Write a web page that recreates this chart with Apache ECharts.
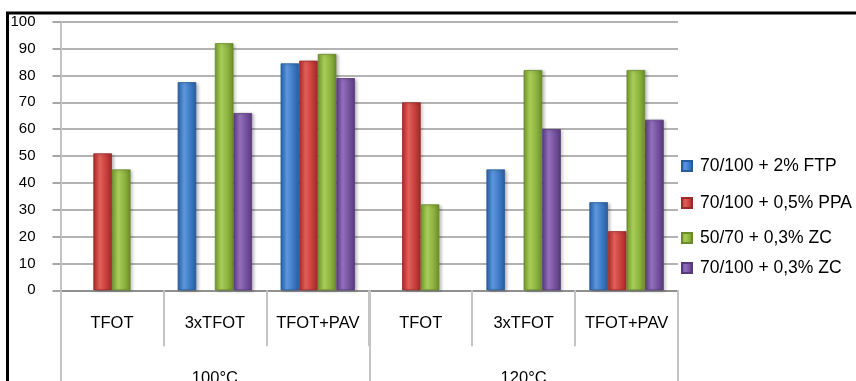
<!DOCTYPE html>
<html>
<head>
<meta charset="utf-8">
<script src="https://cdn.jsdelivr.net/npm/echarts@6/dist/echarts.min.js"></script>
<style>
  html, body { margin: 0; padding: 0; background: #fff; }
  #chart { width: 856px; height: 381px; }
</style>
</head>
<body>
<div id="chart"></div>
<script>
// Ageing procedures (inner axis) grouped by test temperature (outer axis)
const categories = ['TFOT', '3xTFOT', 'TFOT+PAV', 'TFOT', '3xTFOT', 'TFOT+PAV'];
const temperatures = ['100°C', '120°C'];
const yTicks = { min: 0, max: 100, interval: 10 };

const seriesNames = ['70/100 + 2% FTP', '70/100 + 0,5% PPA', '50/70 + 0,3% ZC', '70/100 + 0,3% ZC'];
const ftp2  = [null, 77.5, 84.5, null, 45, 32.8];
const ppa05 = [51, null, 85.5, 70, null, 22];
const zc5070 = [45, 92, 88, 32, 82, 82];
const zc70100 = [null, 66, 79, null, 60, 63.5];

// base / light / dark shades for the cylindrical bar look
const palette = [
  ['#3B78C3', '#5E97DB', '#2A5C99'],
  ['#C93D3A', '#E0605C', '#9A2B29'],
  ['#8CB23D', '#A9CC5A', '#6A8A2B'],
  ['#74509D', '#9270BC', '#573A7A']
];

function barFill(p) {
  return new echarts.graphic.LinearGradient(0, 0, 1, 0, [
    { offset: 0, color: p[2] },
    { offset: 0.12, color: p[0] },
    { offset: 0.35, color: p[1] },
    { offset: 0.7, color: p[0] },
    { offset: 1, color: p[2] }
  ]);
}

const values = [ftp2, ppa05, zc5070, zc70100];
const series = values.map((data, i) => ({
  name: seriesNames[i],
  type: 'bar',
  data: data,
  barWidth: 18.6,
  barGap: '0%',
  itemStyle: {
    color: barFill(palette[i]),
    borderColor: palette[i][2],
    borderWidth: 0.8,
    shadowColor: 'rgba(0,0,0,0.25)',
    shadowBlur: 3,
    shadowOffsetX: 2,
    shadowOffsetY: 1
  }
}));

const font = 'Liberation Sans';
const legendTops = [157, 194, 229, 259];
const legends = seriesNames.map((n, i) => ({
  data: [n],
  left: 681,
  top: legendTops[i],
  orient: 'vertical',
  padding: 0,
  itemWidth: 10,
  itemHeight: 10,
  icon: 'rect',
  selectedMode: false,
  textStyle: { fontFamily: font, fontSize: 17.5, color: '#000', padding: [0, 0, 0, 3] }
}));

const chart = echarts.init(document.getElementById('chart'), null, { renderer: 'canvas' });
chart.setOption({
  animation: false,
  backgroundColor: '#fff',
  grid: {
    left: 60.5, right: 178, top: 21.7, bottom: 90.7,
    containLabel: false,
    outerBoundsMode: 'none'
  },
  legend: legends,
  xAxis: [
    {
      type: 'category',
      data: categories,
      position: 'bottom',
      axisLine: { show: true, lineStyle: { color: '#858585', width: 1.5 } },
      axisTick: { show: true, interval: 0, length: 56, lineStyle: { color: '#c4c4c4', width: 2 } },
      axisLabel: { interval: 0, margin: 25, fontFamily: font, fontSize: 16.5, color: '#000' },
      splitLine: { show: false }
    },
    {
      type: 'category',
      data: temperatures,
      position: 'bottom',
      axisLine: { show: false },
      axisTick: { show: true, interval: 0, length: 100, lineStyle: { color: '#c4c4c4', width: 2 } },
      axisLabel: { interval: 0, margin: 80, fontFamily: font, fontSize: 16.5, color: '#000' },
      splitLine: { show: false }
    }
  ],
  yAxis: {
    type: 'value',
    min: yTicks.min,
    max: yTicks.max,
    interval: yTicks.interval,
    axisLine: { show: true, lineStyle: { color: '#c4c4c4', width: 2 } },
    axisTick: { show: true, length: 8, lineStyle: { color: '#8a8a8a', width: 1.5 } },
    axisLabel: { margin: 25, fontFamily: font, fontSize: 15, color: '#000' },
    splitLine: { show: true, lineStyle: { color: '#9a9a9a', width: 1.5 } }
  },
  series: series,
  graphic: [
    {
      type: 'rect',
      silent: true,
      z: 100,
      shape: { x: 7.5, y: 13, width: 1000, height: 500 },
      style: { fill: 'none', stroke: '#000', lineWidth: 3 }
    }
  ]
});
</script>
</body>
</html>
